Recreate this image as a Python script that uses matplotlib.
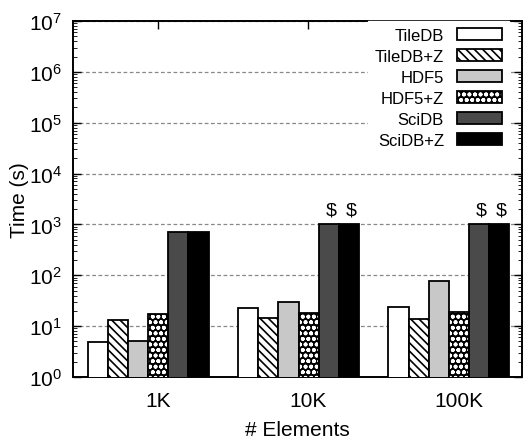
import matplotlib
matplotlib.use("Agg")
import matplotlib.pyplot as plt
import numpy as np
from matplotlib.legend_handler import HandlerTuple
from matplotlib.ticker import LogLocator, NullFormatter

categories = ["1K", "10K", "100K"]
series = ["TileDB", "TileDB+Z", "HDF5", "HDF5+Z", "SciDB", "SciDB+Z"]
tiledb = [4.9, 22.7, 24]
tiledb_z = [13.4, 14.2, 14]
hdf5 = [5.2, 30, 76]
hdf5_z = [17.3, 17.8, 18.7]
scidb = [700, 1000, 1000]
scidb_z = [700, 1000, 1000]
capped = [[False, True, True], [False, True, True]]  # SciDB, SciDB+Z marked with "$"

values = [tiledb, tiledb_z, hdf5, hdf5_z, scidb, scidb_z]
faces = ["white", "white", "#c8c8c8", "black", "#4a4a4a", "black"]
hatches = [None, "\\\\\\\\", None, "ooo", None, None]

plt.rcParams['font.family'] = ['Liberation Sans', 'DejaVu Sans']
plt.rcParams['hatch.linewidth'] = 1.2

fig = plt.figure(figsize=(5.30, 4.39), dpi=100)
ax = fig.add_axes([73/530, 1 - 378/439, (522-73)/530, (378-22)/439])

x = np.arange(len(categories))
w = 0.134
handles = []
for i, (vals, fc, h) in enumerate(zip(values, faces, hatches)):
    pos = x - 2.5*w + i*w
    if h == "ooo":
        b1 = ax.bar(pos, vals, w, color="black", edgecolor="white",
                    hatch=h, linewidth=0, zorder=3)
        b2 = ax.bar(pos, vals, w, facecolor="none", edgecolor="black",
                    linewidth=1.3, zorder=4)
        handles.append((b1.patches[0], b2.patches[0]))
    else:
        b = ax.bar(pos, vals, w, color=fc, edgecolor="black",
                   hatch=h, linewidth=1.3, zorder=3)
        handles.append(b.patches[0])

for k, vals in enumerate([scidb, scidb_z]):
    pos = x - 2.5*w + (4+k)*w
    for j in range(len(categories)):
        if capped[k][j]:
            ax.text(pos[j] + 0.015, vals[j]*1.3, "$", ha="center", va="bottom",
                    fontsize=14, zorder=5)

ax.set_yscale("log")
ax.set_ylim(1, 1e7)
ax.set_xlim(-0.5, 2.486)
ax.set_xticks(x + 0.065)
ax.set_xticklabels(categories, fontsize=15)
ax.yaxis.set_major_locator(LogLocator(base=10, numticks=10))
ax.yaxis.set_minor_locator(LogLocator(base=10, subs=np.arange(2, 10), numticks=20))
ax.yaxis.set_minor_formatter(NullFormatter())
ax.tick_params(axis="y", which="major", labelsize=15, direction="in", length=6,
               right=True, width=1, pad=8)
ax.tick_params(axis="y", which="minor", direction="in", length=3, right=True)
ax.tick_params(axis="x", direction="in", length=6, top=True, width=1, pad=10)
ax.grid(axis="y", which="major", linestyle=(0, (3, 2)), color="#888888",
        linewidth=0.9, zorder=0)
for s in ax.spines.values():
    s.set_linewidth(1.4)

ax.set_ylabel("Time (s)", fontsize=15, labelpad=0)
ax.set_xlabel("# Elements", fontsize=15, labelpad=7)

leg = ax.legend(handles, series, loc="upper right", bbox_to_anchor=(0.971, 1.0),
                markerfirst=False, frameon=True, fancybox=False, edgecolor="white",
                framealpha=1, fontsize=12, handlelength=2.7, handleheight=0.7,
                labelspacing=0.36, borderaxespad=0.0, handletextpad=0.8,
                handler_map={tuple: HandlerTuple(ndivide=1)})
leg.set_zorder(6)

fig.savefig("out.png", dpi=100)
